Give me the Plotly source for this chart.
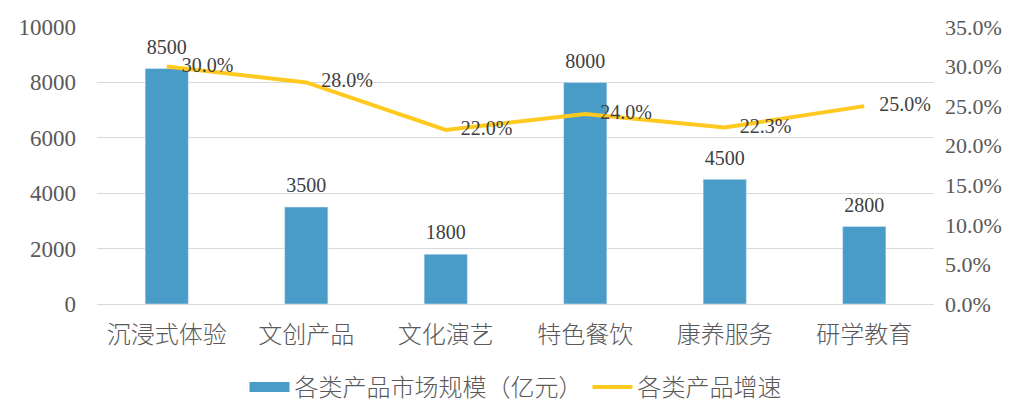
import plotly.graph_objects as go

categories = ["沉浸式体验", "文创产品", "文化演艺", "特色餐饮", "康养服务", "研学教育"]
market_size = [8500, 3500, 1800, 8000, 4500, 2800]
growth = [30.0, 28.0, 22.0, 24.0, 22.3, 25.0]
left_ticks = [0, 2000, 4000, 6000, 8000, 10000]
right_ticks = [0, 5, 10, 15, 20, 25, 30, 35]

BAR = "#4A9CC8"
LINE = "#FFC91F"
TXT = "#595959"
FONT = "Liberation Serif, Noto Sans CJK SC, serif"
CJK = dict(family="Noto Sans CJK SC", color=TXT, weight=300)
LBL = dict(size=20, color="#404040", family=FONT)

fig = go.Figure()
fig.add_trace(go.Bar(
    x=categories, y=market_size, name="各类产品市场规模（亿元）",
    marker_color=BAR, showlegend=False,
))
# wide legend swatch for the bars
fig.add_trace(go.Scatter(
    x=[None], y=[None], mode="lines", name="各类产品市场规模（亿元）",
    line=dict(color=BAR, width=11),
))
# value labels above bars (invisible markers give the gap)
fig.add_trace(go.Scatter(
    x=categories, y=market_size, mode="markers+text", showlegend=False,
    marker=dict(size=14, opacity=0), text=[str(v) for v in market_size],
    textposition="top center", textfont=LBL, cliponaxis=False, hoverinfo="skip",
))
fig.add_trace(go.Scatter(
    x=categories, y=growth, name="各类产品增速", yaxis="y2",
    mode="lines+text", line=dict(color=LINE, width=4),
    text=[f"   {v:.1f}%" for v in growth], textposition="middle right",
    textfont=LBL, cliponaxis=False,
))

fig.update_layout(
    width=1030, height=416,
    margin=dict(l=89, r=104, t=19, b=120),
    plot_bgcolor="white", paper_bgcolor="white",
    font=dict(family=FONT, color=TXT, size=20),
    bargap=0.69,
    xaxis=dict(showgrid=False, showline=True, linecolor="#d9d9d9", linewidth=1,
               tickfont=dict(size=24, **CJK), ticks="", automargin=False,
               ticklabelstandoff=9),
    yaxis=dict(range=[0, 10000], tickvals=left_ticks, showgrid=True,
               ticktext=[str(v) for v in left_ticks],
               gridcolor="#d9d9d9", gridwidth=1, zeroline=False, automargin=False,
               tickfont=dict(size=23), ticks="", ticklabelstandoff=20),
    yaxis2=dict(range=[0, 35], tickvals=right_ticks, overlaying="y", side="right",
                showgrid=False, zeroline=False, automargin=False,
                ticktext=[f"{v:.1f}%" for v in right_ticks],
                tickfont=dict(size=22), ticks="", ticklabelstandoff=10),
    legend=dict(orientation="h", x=0.5, xanchor="center", y=-0.22, yanchor="top",
                font=dict(size=24, **CJK),
                itemwidth=40, traceorder="normal"),
    showlegend=True,
)

fig.write_html("out.html")
